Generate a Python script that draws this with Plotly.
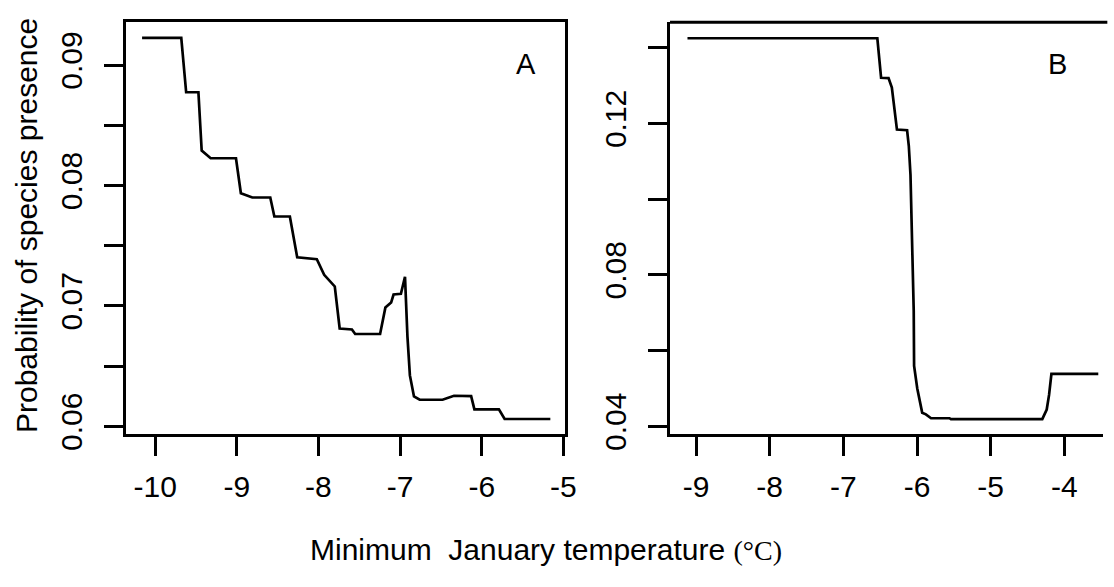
import plotly.graph_objects as go

# Panel A: response to minimum January temperature
temp_a = [-10.16, -9.68, -9.62, -9.47, -9.43, -9.32, -9.01, -8.95, -8.81, -8.59,
          -8.54, -8.35, -8.26, -8.02, -7.93, -7.80, -7.74, -7.59, -7.55, -7.245,
          -7.18, -7.11, -7.08, -6.99, -6.94, -6.91, -6.88, -6.83, -6.76, -6.48,
          -6.34, -6.13, -6.09, -5.79, -5.72, -5.16]
prob_a = [0.09226, 0.09226, 0.08774, 0.08774, 0.0829, 0.08226, 0.08226, 0.07935, 0.0790, 0.0790,
          0.07742, 0.07742, 0.07403, 0.07387, 0.07258, 0.07161, 0.06812, 0.06804, 0.06766, 0.06766,
          0.06986, 0.07027, 0.07094, 0.07100, 0.07242, 0.06744, 0.06422, 0.06247, 0.0622, 0.0622,
          0.06253, 0.0625, 0.0614, 0.0614, 0.0606, 0.0606]

# Panel B
temp_b = [-9.116, -6.539, -6.488, -6.387, -6.342, -6.273, -6.135, -6.112, -6.089, -6.066,
          -6.053, -6.045, -6.040, -5.997, -5.93, -5.88, -5.81, -5.56, -5.54, -4.30,
          -4.24, -4.208, -4.176, -3.54]
prob_b = [0.14249, 0.14249, 0.13205, 0.13197, 0.12949, 0.11838, 0.1182, 0.1141, 0.1064, 0.0902,
          0.0756, 0.0705, 0.05597, 0.0500, 0.04359, 0.04315, 0.04213, 0.04213, 0.04188, 0.04188,
          0.04444, 0.04829, 0.05385, 0.05385]

ticks_x_a = [-10, -9, -8, -7, -6, -5]
labels_x_a = ["-10", "-9", "-8", "-7", "-6", "-5"]
ticks_x_b = [-9, -8, -7, -6, -5, -4]
labels_x_b = ["-9", "-8", "-7", "-6", "-5", "-4"]
ticks_y_a = [0.06, 0.065, 0.07, 0.075, 0.08, 0.085, 0.09]
labels_y_a = ["0.06", "", "0.07", "", "0.08", "", "0.09"]
ticks_y_b = [0.04, 0.06, 0.08, 0.10, 0.12, 0.14]
labels_y_b = ["0.04", "", "0.08", "", "0.12", ""]

W, H = 1114, 587
def px(x):
    return x / W
def py(y):
    return 1 - y / H

FONT = "Arial, Liberation Sans, sans-serif"
LW = 3

fig = go.Figure()
fig.add_trace(go.Scatter(x=temp_a, y=prob_a, mode="lines",
                         line=dict(color="black", width=2.7), xaxis="x", yaxis="y",
                         showlegend=False))
fig.add_trace(go.Scatter(x=temp_b, y=prob_b, mode="lines",
                         line=dict(color="black", width=2.7), xaxis="x2", yaxis="y2",
                         showlegend=False))

common = dict(ticks="outside", ticklen=19, tickwidth=2.5, tickcolor="black",
              showgrid=False, zeroline=False, linecolor="black", linewidth=LW,
              tickfont=dict(family=FONT, size=30, color="black"))
xcommon = dict(ticklabelstandoff=5, **common)
ycommon = dict(ticklabelstandoff=10, tickangle=-90, **common)

fig.update_layout(
    width=W, height=H,
    margin=dict(l=0, r=0, t=0, b=0),
    paper_bgcolor="white", plot_bgcolor="white",
    xaxis=dict(domain=[px(127), px(571)], range=[-10.36, -4.976],
               tickvals=ticks_x_a, ticktext=labels_x_a, showline=True, mirror=True,
               anchor="y", **xcommon),
    yaxis=dict(domain=[py(447), py(23)], range=[0.05935, 0.09355],
               tickvals=ticks_y_a, ticktext=labels_y_a,
               showline=True, mirror=True, anchor="x", **ycommon),
    xaxis2=dict(domain=[px(676.7), 1.0], range=[-9.353, -3.476],
                tickvals=ticks_x_b, ticktext=labels_x_b, showline=True, mirror=False,
                anchor="y2", **xcommon),
    yaxis2=dict(domain=[py(447), py(23)], range=[0.03795, 0.1467],
                tickvals=ticks_y_b, ticktext=labels_y_b,
                showline=True, mirror=False, anchor="x2", **ycommon),
)

# top border of panel B (its right edge runs off the page)
fig.add_shape(type="line", xref="x2 domain", yref="y2 domain",
              x0=0, x1=1.01, y0=1, y1=1, line=dict(color="black", width=LW))

def label(x, y, text, size=30, angle=0):
    fig.add_annotation(x=px(x), y=py(y), xref="paper", yref="paper", text=text,
                       xanchor="center", yanchor="middle", textangle=angle,
                       showarrow=False, font=dict(family=FONT, size=size, color="black"))

label(531, 66, "A", size=29)
label(1068, 66, "B", size=29)
label(27, 232, "Probability of species presence", size=30, angle=-90)
label(551, 566, "Minimum\u00a0\u00a0January temperature "
                "<span style=\"font-family:'Liberation Serif', serif; font-size:28px\">(\u00b0C)</span>",
      size=30)

fig.write_html("out.html")
